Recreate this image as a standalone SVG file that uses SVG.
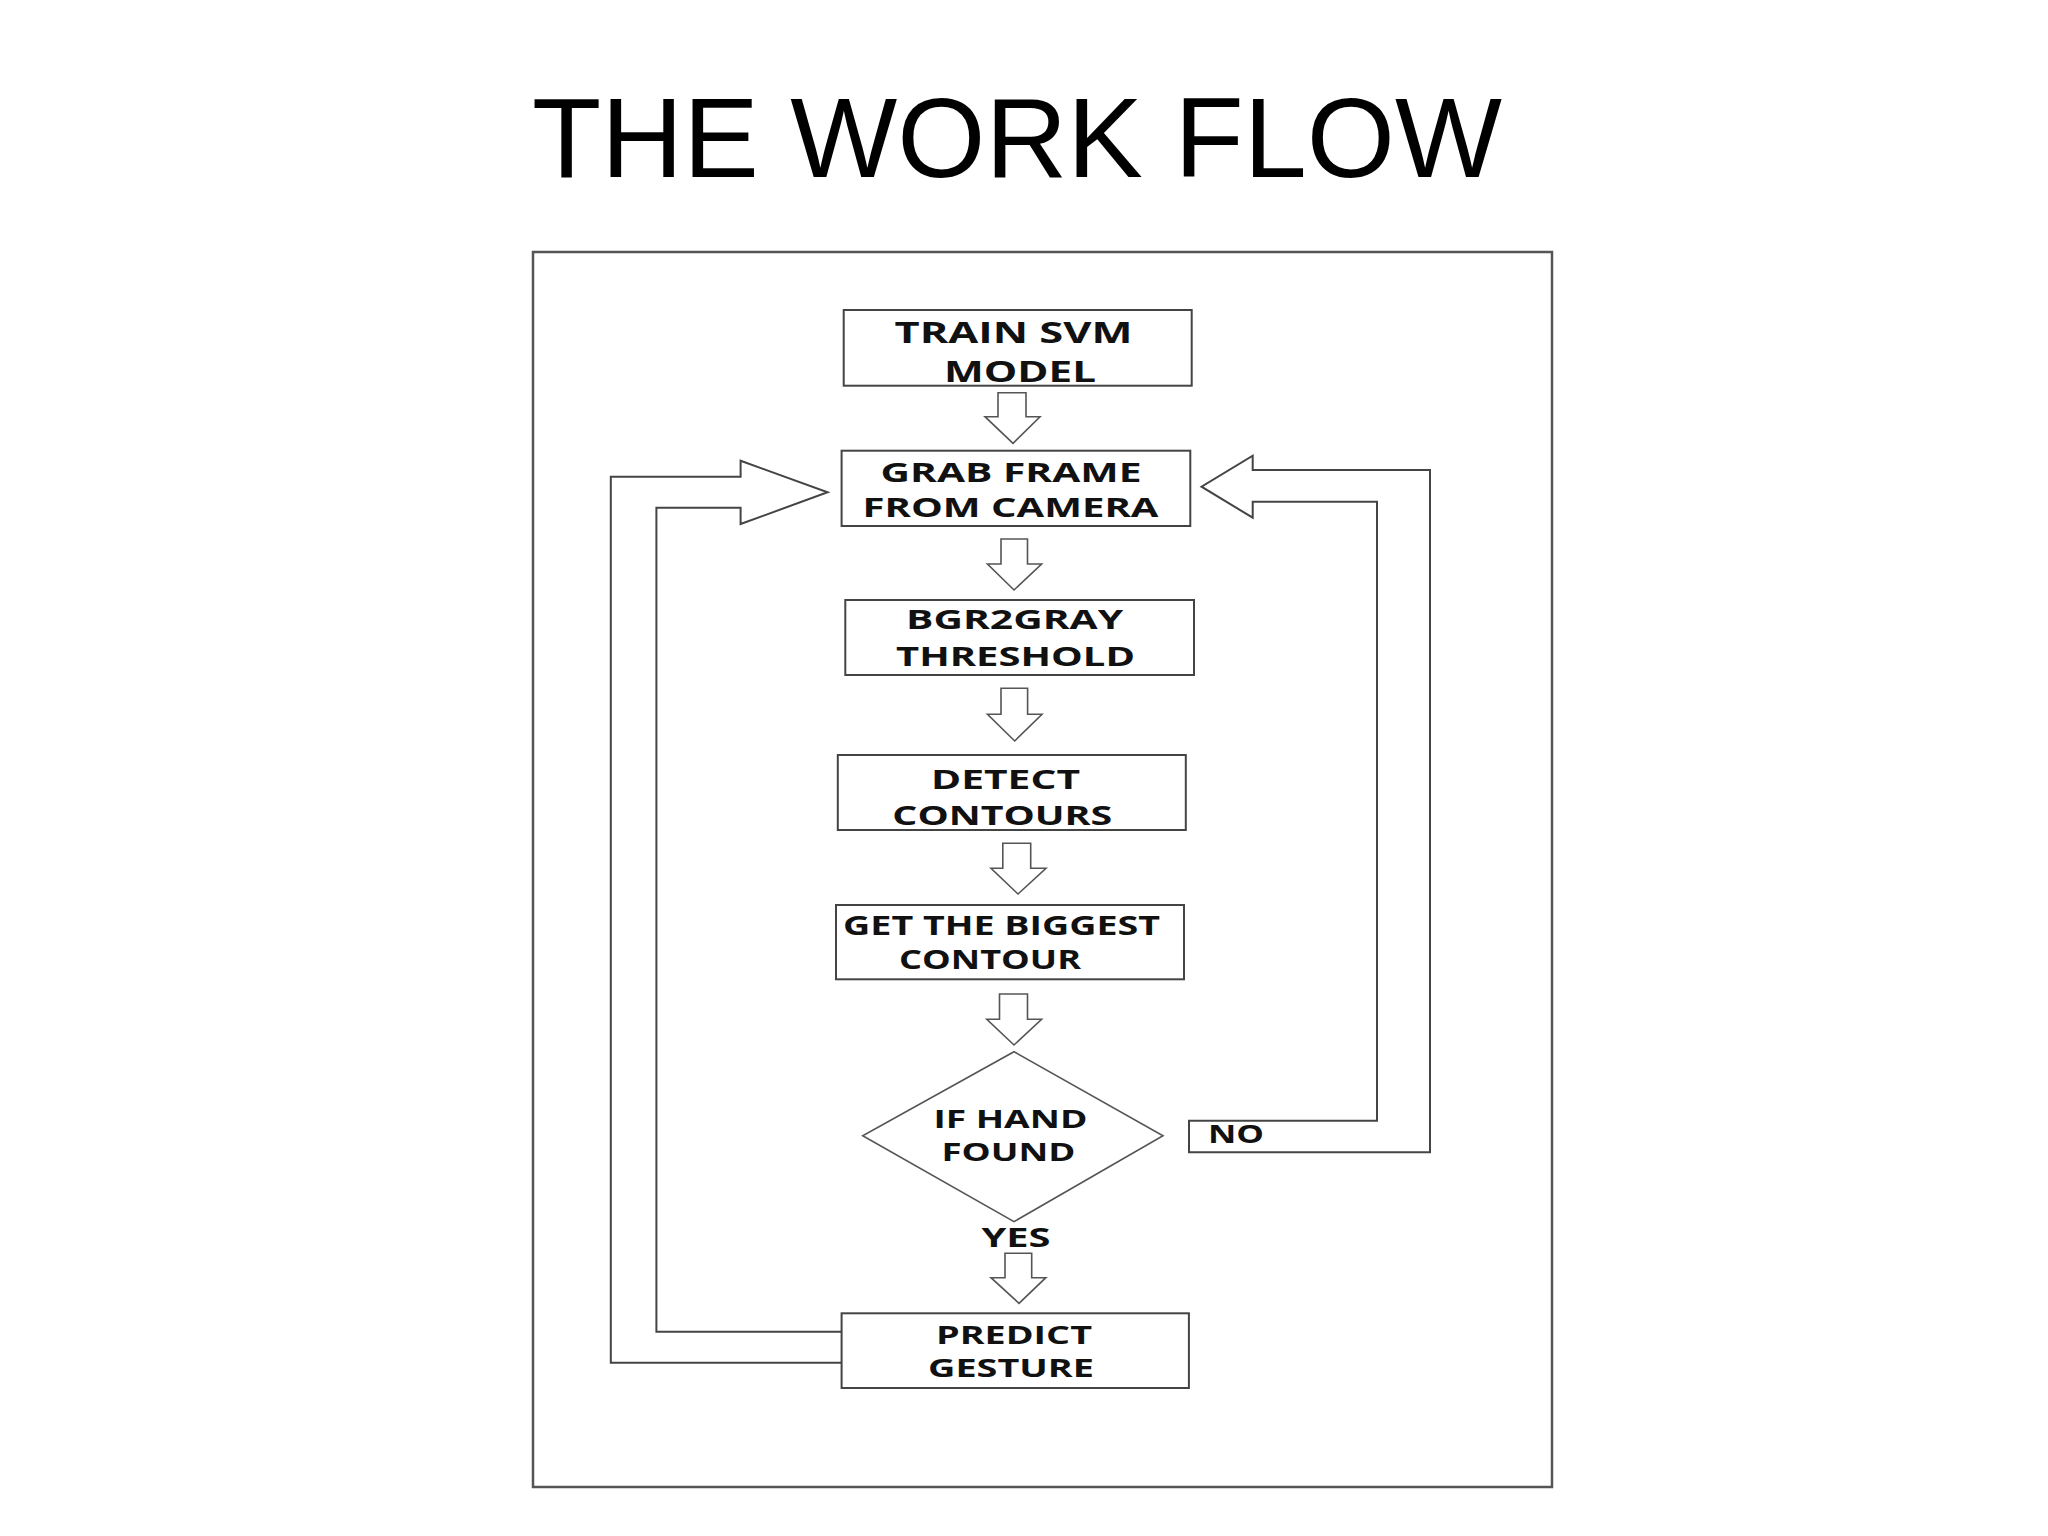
<svg xmlns="http://www.w3.org/2000/svg" width="2048" height="1536" viewBox="0 0 2048 1536">
<style>
.frame{fill:none;stroke:#555;stroke-width:2.5}
.box{fill:#fff;stroke:#444;stroke-width:2}
.arr{fill:#fff;stroke:#555;stroke-width:1.6;stroke-linejoin:miter}
.loop{fill:none;stroke:#444;stroke-width:2}
.lbl{font-family:"Open Sans","DejaVu Sans",sans-serif;font-weight:700;fill:#111;text-anchor:middle}
.title{font-family:"Liberation Sans",Arial,sans-serif;font-size:113px;fill:#000;text-anchor:middle}
</style>
<rect width="2048" height="1536" fill="#fff"/>
<text class="title" x="1017" y="176.7" textLength="970" lengthAdjust="spacingAndGlyphs">THE WORK FLOW</text>
<rect class="frame" x="533" y="252" width="1019" height="1235"/>

<g id="connectors">
<path class="arr" d="M998,392.7 H1026 V416.7 H1040 L1013,443.3 L985,416.7 H998 Z"/>
<path class="arr" d="M1001,539 H1027.5 V564 H1041.6 L1014,590 L987.5,564 H1001 Z"/>
<path class="arr" d="M1001,688.3 H1027.6 V714.3 H1042 L1014.7,741 L987.5,714.3 H1001 Z"/>
<path class="arr" d="M1002.8,843.3 H1030.7 V868.3 H1046 L1018,894 L991,868.3 H1002.8 Z"/>
<path class="arr" d="M999.5,994 H1027.5 V1019.3 H1041.6 L1014,1045 L986.8,1019.3 H999.5 Z"/>
<path class="arr" d="M1005,1253.3 H1031.7 V1277.7 H1045.8 L1019,1303.3 L991,1277.7 H1005 Z"/>
<path class="loop" d="M841.6,1331.7 H656.4 V507.7 H740.6 V524 L827.6,492.3 L740.6,460.7 V476.7 H610.8 V1362.7 H841.6"/>
<path class="loop" d="M1189,1120.7 H1377 V501.7 H1252.7 V517.7 L1201.5,486.7 L1252.7,455.7 V470 H1430 V1152.3 H1189 Z"/>
<text class="lbl" x="1236" y="1143.3" font-size="25" textLength="56" lengthAdjust="spacingAndGlyphs">NO</text>
<text class="lbl" x="1016" y="1246.7" font-size="26" textLength="69" lengthAdjust="spacingAndGlyphs">YES</text>
</g>

<g id="train">
<rect class="box" x="843.7" y="310" width="348" height="75.7"/>
<text class="lbl" x="1013.5" y="343.3" font-size="29" textLength="238" lengthAdjust="spacingAndGlyphs">TRAIN SVM</text>
<text class="lbl" x="1020" y="382.3" font-size="29" textLength="152" lengthAdjust="spacingAndGlyphs">MODEL</text>
</g>

<g id="grab">
<rect class="box" x="841.6" y="450.7" width="348.7" height="75.3"/>
<text class="lbl" x="1011" y="481.7" font-size="26" textLength="261" lengthAdjust="spacingAndGlyphs">GRAB FRAME</text>
<text class="lbl" x="1010.5" y="517.3" font-size="26.5" textLength="296" lengthAdjust="spacingAndGlyphs">FROM CAMERA</text>
</g>

<g id="bgr2gray">
<rect class="box" x="845.3" y="600" width="348.7" height="75"/>
<text class="lbl" x="1014.6" y="629.3" font-size="26" textLength="217" lengthAdjust="spacingAndGlyphs">BGR2GRAY</text>
<text class="lbl" x="1015.5" y="666" font-size="27" textLength="239" lengthAdjust="spacingAndGlyphs">THRESHOLD</text>
</g>

<g id="detect">
<rect class="box" x="837.8" y="755" width="348" height="75"/>
<text class="lbl" x="1005.5" y="789.3" font-size="27" textLength="149" lengthAdjust="spacingAndGlyphs">DETECT</text>
<text class="lbl" x="1002.3" y="825" font-size="27" textLength="220" lengthAdjust="spacingAndGlyphs">CONTOURS</text>
</g>

<g id="biggest">
<rect class="box" x="836" y="905" width="348" height="74.3"/>
<text class="lbl" x="1001.6" y="935" font-size="26" textLength="317" lengthAdjust="spacingAndGlyphs">GET THE BIGGEST</text>
<text class="lbl" x="990" y="969" font-size="27" textLength="182" lengthAdjust="spacingAndGlyphs">CONTOUR</text>
</g>

<g id="handfound">
<polygon class="box" points="1014,1051.7 1163,1135.7 1014,1221.7 862.7,1135.7" style="stroke:#555;stroke-width:1.6"/>
<text class="lbl" x="1010.4" y="1127.7" font-size="25" textLength="154" lengthAdjust="spacingAndGlyphs">IF HAND</text>
<text class="lbl" x="1008.4" y="1161" font-size="25" textLength="134" lengthAdjust="spacingAndGlyphs">FOUND</text>
</g>

<g id="predict">
<rect class="box" x="841.6" y="1313.3" width="347.3" height="74.7"/>
<text class="lbl" x="1014" y="1344" font-size="25" textLength="156" lengthAdjust="spacingAndGlyphs">PREDICT</text>
<text class="lbl" x="1011" y="1377.3" font-size="25" textLength="166" lengthAdjust="spacingAndGlyphs">GESTURE</text>
</g>
</svg>
